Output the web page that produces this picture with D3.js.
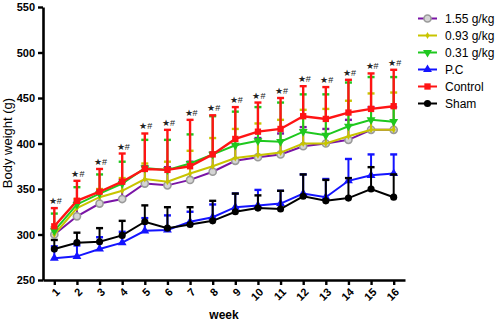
<!DOCTYPE html>
<html>
<head>
<meta charset="utf-8">
<script src="https://cdn.jsdelivr.net/npm/d3@7"></script>
<style>
  body { margin: 0; background: #fff; }
  svg { display: block; font-family: Arial, "Liberation Sans", sans-serif; }
</style>
</head>
<body>
<div id="chart"></div>
<script>
// data (mean and SD, body weight in g)
const weeks = [1, 2, 3, 4, 5, 6, 7, 8, 9, 10, 11, 12, 13, 14, 15, 16];
const yTicks = [250, 300, 350, 400, 450, 500, 550];

const dose155Mean = [300, 320, 334, 339, 356, 354, 360, 369, 381, 385, 388, 397, 400, 404, 415, 415];
const dose155Sd = [8, 16, 14, 21, 19, 20, 20, 21, 18, 21, 23, 21, 16, 22, 25, 25];
const dose093Mean = [300, 329, 341, 348, 361, 358, 367, 375, 384, 387, 390, 400, 400, 408, 415, 415];
const dose093Sd = [8, 10, 9, 14, 17, 22, 25, 31, 32, 35, 36, 37, 38, 39, 40, 41];
const dose031Mean = [304, 333, 345, 356, 373, 371, 378, 388, 398, 403, 402, 413, 409, 419, 426, 424];
const dose031Sd = [19, 19, 21, 24, 31, 33, 32, 42, 37, 37, 43, 41, 45, 48, 47, 49];
const pcMean = [274, 276, 284, 291, 304, 305, 314, 319, 330, 332, 334, 345, 341, 359, 365, 367];
const pcSd = [13, 12, 13, 12, 14, 16, 11, 14, 15, 17, 14, 21, 20, 24, 23, 21];
const controlMean = [309, 337, 347, 358, 372, 371, 375, 388, 405, 413, 416, 430, 427, 434, 438, 441];
const controlSd = [20, 22, 25, 31, 39, 44, 51, 43, 35, 32, 34, 33, 35, 36, 39, 40];
const shamMean = [284, 291, 292, 299, 314, 307, 311, 315, 325, 329, 328, 342, 337, 340, 350, 341];
const shamSd = [10, 11, 15, 16, 18, 23, 19, 22, 20, 14, 20, 24, 23, 22, 24, 25];

const sigLabel = "\u2605#"; // shown above every week

// 1) series (legend order)
const series = [
  { name: "1.55 g/kg", mean: dose155Mean, sd: dose155Sd, color: "#7a14a6", marker: "circleOpen" },
  { name: "0.93 g/kg", mean: dose093Mean, sd: dose093Sd, color: "#c8c400", marker: "diamond" },
  { name: "0.31 g/kg", mean: dose031Mean, sd: dose031Sd, color: "#1ec81e", marker: "triDown" },
  { name: "P.C", mean: pcMean, sd: pcSd, color: "#1414ff", marker: "triUp" },
  { name: "Control", mean: controlMean, sd: controlSd, color: "#ff1414", marker: "square" },
  { name: "Sham", mean: shamMean, sd: shamSd, color: "#000000", marker: "circle" }
];

const width = 498;
const height = 324;
const margin = { top: 7, right: 93, bottom: 44, left: 43 };

const svg = d3.select("#chart")
  .append("svg")
  .attr("width", width)
  .attr("height", height);

// 2) scales
const x = d3.scalePoint()
  .domain(weeks)
  .range([margin.left, width - margin.right])
  .padding(0.5);

const y = d3.scaleLinear()
  .domain([250, 550])
  .range([height - margin.bottom, margin.top]);

// marker paths
function markerPath(type) {
  if (type === "square") return d3.symbol(d3.symbolSquare, 40)();
  if (type === "triUp") return d3.symbol(d3.symbolTriangle, 34)();
  if (type === "triDown") return d3.symbol(d3.symbolTriangle, 34)();
  if (type === "diamond") return d3.symbol(d3.symbolDiamond, 14)();
  return d3.symbol(d3.symbolCircle, 40)();
}

function drawMarker(g, s) {
  const p = g.append("path")
    .attr("d", markerPath(s.marker))
    .attr("transform", s.marker === "triDown" ? "rotate(180)" : null);
  if (s.marker === "circleOpen") {
    p.attr("fill", "#d4d4d4").attr("stroke", "#9a9a9a").attr("stroke-width", 1.6);
  } else {
    p.attr("fill", s.color);
  }
}

// 3) error bars, lines, markers
const line = d3.line().x((d, i) => x(weeks[i])).y((d) => y(d));

series.forEach((s) => {
  const g = svg.append("g");
  const lw = s.name === "Control" ? 2.4 : 2;

  // upper error bars only
  const eb = g.selectAll(".eb").data(s.mean).enter().append("g");
  eb.append("line")
    .attr("x1", (d, i) => x(weeks[i]))
    .attr("x2", (d, i) => x(weeks[i]))
    .attr("y1", (d) => y(d))
    .attr("y2", (d, i) => y(d + s.sd[i]))
    .attr("stroke", s.color)
    .attr("stroke-width", lw);
  eb.append("line")
    .attr("x1", (d, i) => x(weeks[i]) - 3.5)
    .attr("x2", (d, i) => x(weeks[i]) + 3.5)
    .attr("y1", (d, i) => y(d + s.sd[i]))
    .attr("y2", (d, i) => y(d + s.sd[i]))
    .attr("stroke", s.color)
    .attr("stroke-width", 2.4);

  g.append("path")
    .datum(s.mean)
    .attr("d", line)
    .attr("fill", "none")
    .attr("stroke", s.color)
    .attr("stroke-width", lw);

  g.selectAll(".pt").data(s.mean).enter().append("g")
    .attr("transform", (d, i) => `translate(${x(weeks[i])},${y(d)})`)
    .each(function () { drawMarker(d3.select(this), s); });
});

// 4) significance marks above Control error bars
svg.append("g").selectAll("text")
  .data(controlMean)
  .enter().append("text")
  .attr("x", (d, i) => x(weeks[i]) + 1)
  .attr("y", (d, i) => y(d + controlSd[i]) - 4)
  .attr("text-anchor", "middle")
  .attr("fill", "#222")
  .style("font-size", "9px")
  .text(sigLabel);

// 5) axes
const yAxis = d3.axisLeft(y).tickValues(yTicks).tickSize(5).tickSizeOuter(0).tickPadding(3);
const gy = svg.append("g")
  .attr("transform", `translate(${margin.left},0)`)
  .call(yAxis);
gy.select(".domain").attr("stroke-width", 2.6);
gy.selectAll(".tick line").attr("stroke-width", 2.4);
gy.selectAll("text")
  .attr("fill", "#000")
  .style("font-size", "11px")
  .style("font-weight", "bold");

const xAxis = d3.axisBottom(x).tickSize(5).tickSizeOuter(0);
const gx = svg.append("g")
  .attr("transform", `translate(0,${height - margin.bottom})`)
  .call(xAxis);
gx.select(".domain").attr("stroke-width", 2.6);
gx.selectAll(".tick line").attr("stroke-width", 2.4);
gx.selectAll("text")
  .attr("fill", "#000")
  .attr("y", 0)
  .attr("dy", "0.35em")
  .attr("text-anchor", "end")
  .attr("transform", "translate(3,10) rotate(-45)")
  .style("font-size", "11px")
  .style("font-weight", "bold");

// 6) axis labels
svg.append("text")
  .attr("x", (margin.left + width - margin.right) / 2)
  .attr("y", height - 5)
  .attr("text-anchor", "middle")
  .style("font-size", "12px")
  .style("font-weight", "bold")
  .text("week");

svg.append("text")
  .attr("transform", "rotate(-90)")
  .attr("x", -143)
  .attr("y", 12)
  .attr("text-anchor", "middle")
  .style("font-size", "13px")
  .text("Body weight (g)");

// 7) legend
const legend = svg.append("g").attr("transform", "translate(418,18.5)");
const item = legend.selectAll("g").data(series).enter().append("g")
  .attr("transform", (d, i) => `translate(0,${i * 17})`);
item.append("line")
  .attr("x1", 0).attr("x2", 19)
  .attr("stroke", (d) => d.color)
  .attr("stroke-width", 2);
item.append("g")
  .attr("transform", "translate(9.5,0)")
  .each(function (d) { drawMarker(d3.select(this), d); });
item.append("text")
  .attr("x", 27)
  .attr("dy", "0.35em")
  .style("font-size", "12px")
  .text((d) => d.name);
</script>
</body>
</html>
